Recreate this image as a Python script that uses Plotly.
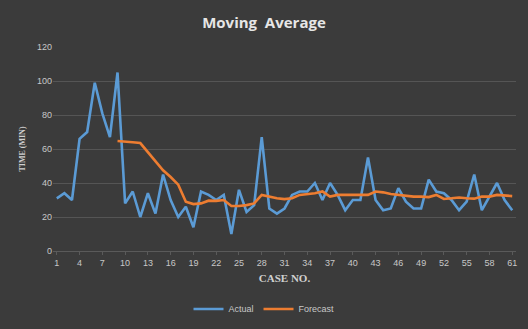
import plotly.graph_objects as go

cases = list(range(1, 62))
actual = [31, 34, 30, 66, 70, 99, 81, 67, 105, 28, 35, 20, 34, 22, 45, 30,
          20, 26, 14, 35, 33, 30, 33, 10, 36, 23, 27, 67, 25, 22, 25, 33,
          35, 35, 40, 30, 40, 33, 24, 30, 30, 55, 30, 24, 25, 37, 29, 25,
          25, 42, 35, 34, 30, 24, 29, 45, 24, 32, 40, 30, 24]
forecast_cases = list(range(9, 62))
forecast = [64.7, 64.5, 64, 63.5, 58, 52.5, 47.5, 43.5, 39, 29, 27.6, 28, 29.6,
            29.5, 30, 26.5, 26.5, 27, 28, 33, 32, 31, 30.5, 31, 33, 33.5, 34,
            35, 32, 33, 33, 33, 33, 33, 35, 34.5, 33.5, 33, 32.5, 32, 32, 31.7,
            33, 30.6, 31, 31.5, 31, 30.8, 32, 32, 33, 32.8, 32.3, 31]
x_ticks = list(range(1, 62, 3))
y_ticks = [0, 20, 40, 60, 80, 100, 120]

fig = go.Figure()
fig.add_trace(go.Scatter(x=cases, y=actual, mode="lines", name="Actual",
                         line=dict(color="#5B9BD5", width=2.6)))
fig.add_trace(go.Scatter(x=forecast_cases, y=forecast, mode="lines", name="Forecast",
                         line=dict(color="#ED7D31", width=2.6)))

fig.update_layout(
    width=528, height=329,
    paper_bgcolor="#3b3b3b", plot_bgcolor="#3b3b3b",
    margin=dict(l=53, r=12, t=47, b=78, autoexpand=False),
    title=dict(text="<b>Moving  Average</b>", x=0.5, xanchor="center", y=0.932, yanchor="middle",
               font=dict(family="Open Sans, Liberation Sans, sans-serif", size=15, color="#e6e6e6")),
    xaxis=dict(range=[0.5, 61.5], tickmode="array", tickvals=x_ticks, showgrid=False,
               zeroline=False, showline=True, linecolor="#5a5a5a", linewidth=1,
               ticks="outside", ticklen=3, tickcolor="#5a5a5a",
               tickfont=dict(family="Liberation Sans, sans-serif", size=9, color="#c8c8c8"),
               title=dict(text="<b>CASE NO.</b>", standoff=7,
                          font=dict(family="Liberation Serif, serif", size=11, color="#d0d0d0"))),
    yaxis=dict(range=[0, 120], tickmode="array", tickvals=y_ticks, showgrid=True,
               gridcolor="#555555", gridwidth=1, zeroline=False,
               tickfont=dict(family="Liberation Sans, sans-serif", size=9, color="#c8c8c8"),
               ticklen=0, ticks="",
               title=dict(text="<b>TIME (MIN)</b>", standoff=10,
                          font=dict(family="Liberation Serif, serif", size=8, color="#d0d0d0"))),
    legend=dict(orientation="h", x=0.5, xanchor="center", xref="container",
                y=0.061, yanchor="middle", yref="container",
                font=dict(family="Liberation Sans, sans-serif", size=9, color="#c8c8c8"),
                bgcolor="rgba(0,0,0,0)", itemwidth=30, tracegroupgap=0),
    showlegend=True,
)

fig.write_html("out.html")
